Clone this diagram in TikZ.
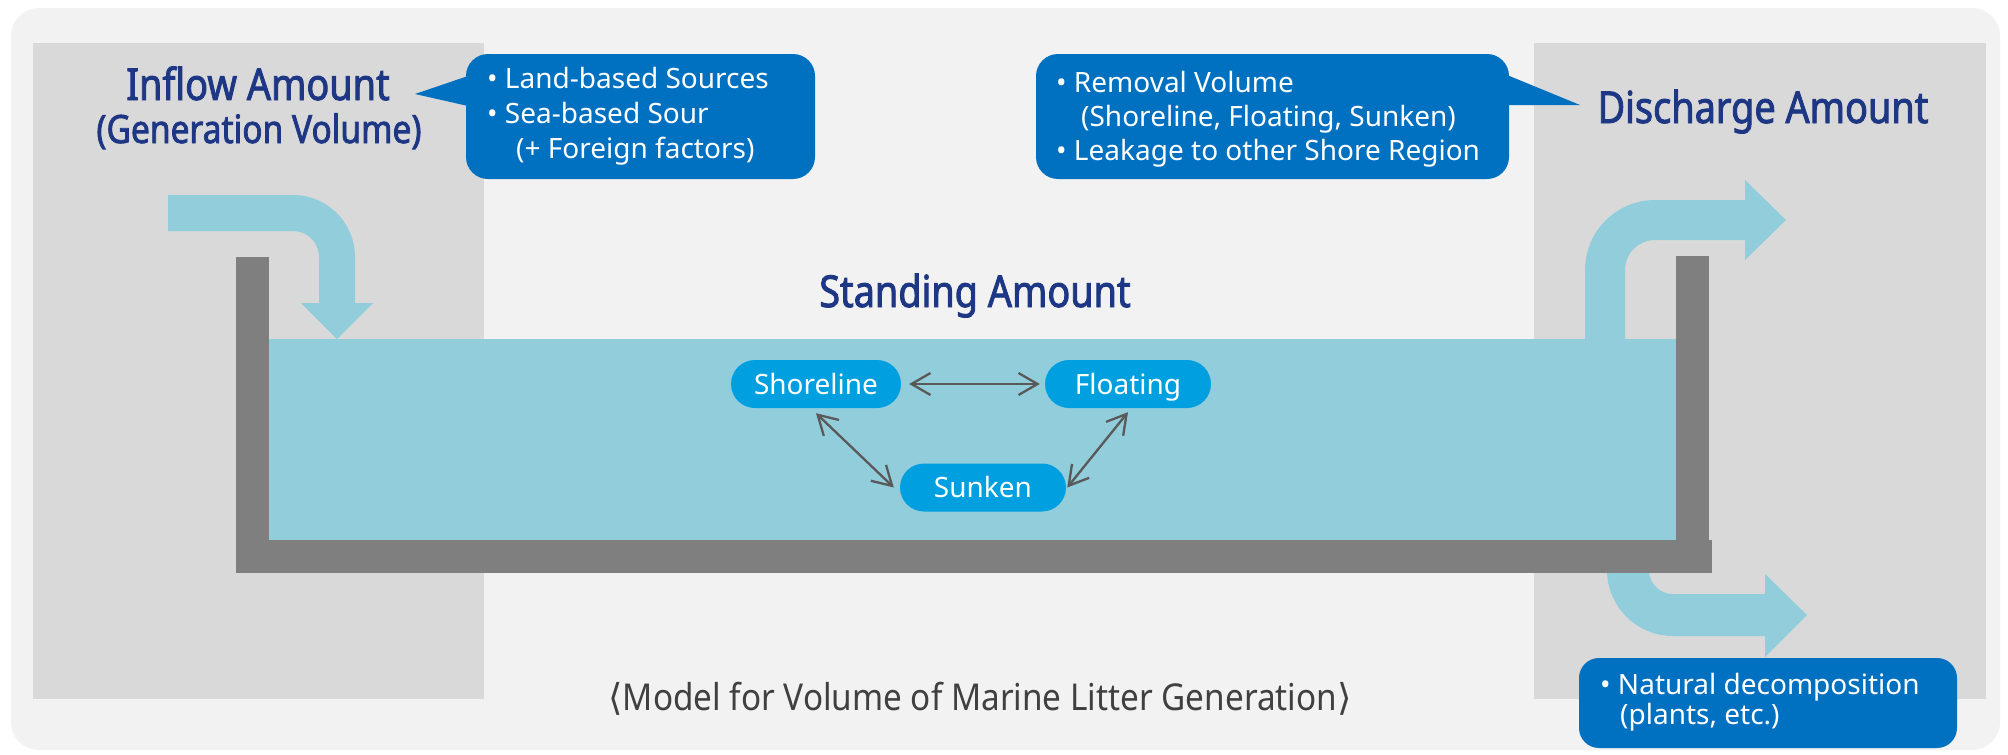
\documentclass[tikz,border=0pt]{standalone}
\usepackage{fontspec}
\setmainfont{Noto Sans}
\newfontfamily\condfont{Noto Sans}[FakeStretch=0.9]
\newfontfamily\headfont{Noto Sans}[FakeStretch=0.86,FakeBold=2]
\newfontfamily\symfont{DejaVu Sans}
\usetikzlibrary{arrows.meta}
\definecolor{panel}{HTML}{F2F2F2}
\definecolor{greybox}{HTML}{D9D9D9}
\definecolor{water}{HTML}{92CDDC}
\definecolor{wall}{HTML}{7F7F7F}
\definecolor{cblue}{HTML}{0070C0}
\definecolor{pblue}{HTML}{00A0E0}
\definecolor{agray}{HTML}{595959}
\definecolor{navy}{RGB}{30,55,132}
\definecolor{captext}{HTML}{404040}
\tikzset{
  heading/.style={anchor=base, inner sep=0pt, text=navy, font=\headfont\fontsize{44}{52}\selectfont},
  subheading/.style={anchor=base, inner sep=0pt, text=navy, font=\headfont\fontsize{39}{46}\selectfont},
  calltext/.style={anchor=base west, inner sep=0pt, text=white, font=\fontsize{28}{35}\selectfont},
  pill/.style={fill=pblue, rounded corners=24pt, minimum height=48pt, text=white,
    font=\fontsize{28}{34}\selectfont, text height=20pt, text depth=0pt, inner sep=0pt},
  pa/.style={draw=agray, line width=2.3pt,
    {Straight Barb[length=19pt,width=22pt]}-{Straight Barb[length=19pt,width=22pt]}},
  bigarrow/.style={draw=water, line cap=butt},
}
\begin{document}
\begin{tikzpicture}[x=1pt,y=-1pt]
\useasboundingbox (0,0) rectangle (2008,755);
\fill[white] (0,0) rectangle (2008,755);
% panel
\fill[panel, rounded corners=28pt] (11,8) rectangle (2000,750);
% grey side boxes
\fill[greybox] (33,43) rectangle (484,699);
\fill[greybox] (1534,43) rectangle (1986,699);
% callouts
\fill[cblue, rounded corners=22pt] (466,54) rectangle (815,179);
\fill[cblue] (468,76) -- (415,94) -- (468,106) -- cycle;
\fill[cblue, rounded corners=22pt] (1036,54) rectangle (1509,179);
\fill[cblue] (1507,75) -- (1580,105) -- (1507,105) -- cycle;
% lower right arrow (behind tank)
\draw[bigarrow, line width=42pt, rounded corners=45pt] (1628,555) -- (1628,615) -- (1766,615);
\fill[water] (1765,574) -- (1807,615) -- (1765,657) -- cycle;
% natural decomposition callout
\fill[cblue, rounded corners=20pt] (1579,658) rectangle (1957,748);
% water
\fill[water] (269,339) rectangle (1676,540);
% walls
\fill[wall] (236,257) rectangle (269,573);
\fill[wall] (1676,256) rectangle (1709,540);
\fill[wall] (236,540) rectangle (1712,573);
% inflow arrow
\draw[bigarrow, line width=36pt, rounded corners=44pt] (168,213) -- (337,213) -- (337,304);
\fill[water] (301,303) -- (373,303) -- (337,339) -- cycle;
% upper discharge arrow
\draw[bigarrow, line width=40pt, rounded corners=50pt] (1605,345) -- (1605,220) -- (1746,220);
\fill[water] (1745,180) -- (1786,220) -- (1745,260) -- cycle;
% headings
\node[heading] (inflow) at (258,100) {Inflow Amount};
\node[subheading] (gen) at (259,143) {(Generation Volume)};
\node[heading] (discharge) at (1763,123) {Discharge Amount};
\node[heading] (standing) at (975,307) {Standing Amount};
% callout texts
\node[calltext] (c1a) at (487,88) {• Land-based Sources};
\node[calltext] (c1b) at (487,123) {• Sea-based Sour};
\node[calltext] (c1c) at (516,158) {(+ Foreign factors)};
\node[calltext] (c2a) at (1056,92) {• Removal Volume};
\node[calltext] (c2b) at (1081,126) {(Shoreline, Floating, Sunken)};
\node[calltext] (c2c) at (1056,160) {• Leakage to other Shore Region};
\node[calltext] (c3a) at (1600,694) {• Natural decomposition};
\node[calltext] (c3b) at (1620,724) {(plants, etc.)};
% pills
\node[pill, minimum width=170pt] (sh) at (816,384) {Shoreline};
\node[pill, minimum width=166pt] (fl) at (1128,384) {Floating};
\node[pill, minimum width=166pt] (sk) at (983,487.5) {Sunken};
\draw[pa, shorten <=8pt, shorten >=5pt] (sh) -- (fl);
\draw[pa] ([yshift=-5pt]sh.south) -- ([xshift=-6pt]sk.west);
\draw[pa] ([yshift=-4pt]fl.south) -- ([xshift=1pt]sk.east);
% caption
\node[anchor=base, inner sep=0pt, text=captext, font=\condfont\fontsize{37}{44}\selectfont] (cap) at (980,710)
  {{\symfont ⟨}Model for Volume of Marine Litter Generation{\symfont ⟩}};
\end{tikzpicture}
\end{document}
